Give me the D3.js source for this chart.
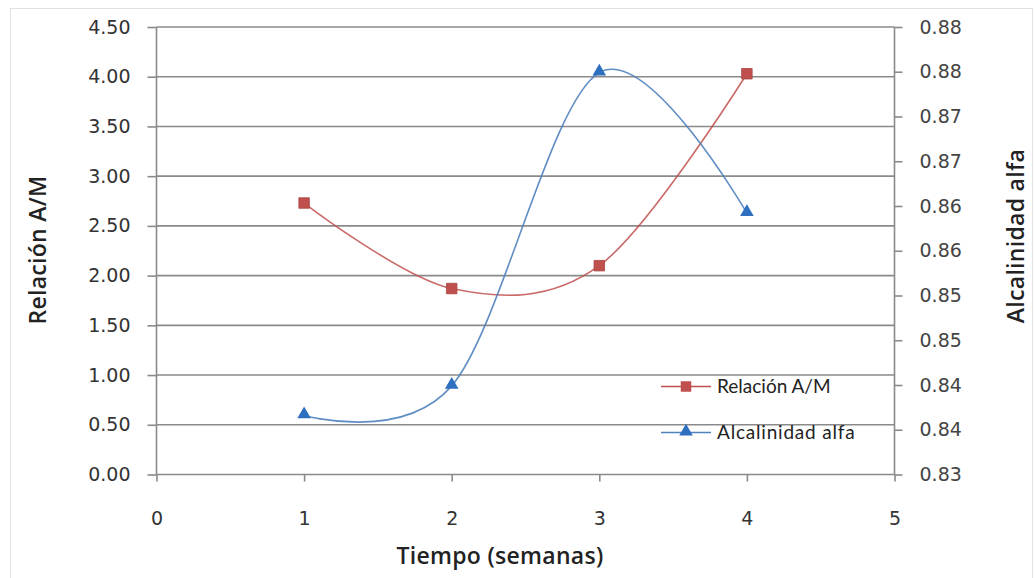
<!DOCTYPE html>
<html>
<head>
<meta charset="utf-8">
<script src="https://cdn.jsdelivr.net/npm/d3@7"></script>
<style>
  html, body { margin: 0; padding: 0; background: #fff; }
  svg { display: block; }
</style>
</head>
<body>
<svg id="chart" width="1035" height="578"></svg>
<script>
// ---- data ----
const weeks = [1, 2, 3, 4];
const relacionAM = [2.73, 1.87, 2.10, 4.03];
const alcalinidadAlfa = [0.8366, 0.8399, 0.8749, 0.8592];
const xTickValues = [0, 1, 2, 3, 4, 5];
const leftTickValues = [0, 0.5, 1, 1.5, 2, 2.5, 3, 3.5, 4, 4.5];
const rightTickValues = [0.830, 0.835, 0.840, 0.845, 0.850, 0.855, 0.860, 0.865, 0.870, 0.875, 0.880];
const rightTickLabels = ["0.83", "0.84", "0.84", "0.85", "0.85", "0.86", "0.86", "0.87", "0.87", "0.88", "0.88"];
const seriesNames = ["Relación A/M", "Alcalinidad alfa"];
const xTitle = "Tiempo (semanas)";
const yLeftTitle = "Relación A/M";
const yRightTitle = "Alcalinidad alfa";

// ---- layout ----
const svg = d3.select("#chart");
const L = 156.5, R = 894.5, T = 27, B = 474.5;
const gridColor = "#8a8a8a";
const red = "#C0504D", blue = "#4F81BD";

svg.append("rect").attr("x", 10.5).attr("y", 8.5).attr("width", 1022).attr("height", 575)
  .attr("fill", "none").attr("stroke", "#e2e2e2");

const x = d3.scaleLinear().domain([0, 5]).range([L, R]);
const yL = d3.scaleLinear().domain([0, 4.5]).range([B, T]);
const yR = d3.scaleLinear().domain([0.83, 0.88]).range([B, T]);

// gridlines
svg.append("g").selectAll("line").data(leftTickValues.filter(v => v > 0)).join("line")
  .attr("x1", L).attr("x2", R)
  .attr("y1", d => yL(d)).attr("y2", d => yL(d))
  .attr("stroke", gridColor).attr("stroke-width", 1.6);

// axes
const tickFont = "'DejaVu Sans', Verdana, sans-serif";
const leftAxis = svg.append("g").attr("transform", `translate(${L},0)`)
  .call(d3.axisLeft(yL).tickValues(leftTickValues).tickFormat(d3.format(".2f")).tickSize(9).tickPadding(17));
const rightAxis = svg.append("g").attr("transform", `translate(${R},0)`)
  .call(d3.axisRight(yR).tickValues(rightTickValues).tickFormat((d, i) => rightTickLabels[i]).tickSize(8).tickPadding(17));
const bottomAxis = svg.append("g").attr("transform", `translate(0,${B})`)
  .call(d3.axisBottom(x).tickValues(xTickValues).tickFormat(d3.format("d")).tickSize(7).tickPadding(30));

[leftAxis, rightAxis, bottomAxis].forEach(g => {
  g.select(".domain").attr("stroke", gridColor).attr("stroke-width", 1.6);
  g.selectAll(".tick line").attr("stroke", gridColor).attr("stroke-width", 1.6);
  g.selectAll(".tick text").attr("font-family", tickFont).attr("font-size", 19).attr("fill", "#333");
});
leftAxis.select(".domain").attr("d", `M0,${B}V${T}`);
rightAxis.select(".domain").attr("d", `M0,${B}V${T}`);
bottomAxis.select(".domain").attr("d", `M${L},0H${R}`);
rightAxis.selectAll(".tick text").attr("fill", "#444");

// lines
const lineL = d3.line().x((d, i) => x(weeks[i])).y(d => yL(d)).curve(d3.curveCardinal.tension(0));
const lineR = d3.line().x((d, i) => x(weeks[i])).y(d => yR(d)).curve(d3.curveCardinal.tension(0));

svg.append("path").datum(relacionAM).attr("d", lineL)
  .attr("fill", "none").attr("stroke", red).attr("stroke-width", 1.6).attr("stroke-opacity", 0.85);
svg.append("path").datum(alcalinidadAlfa).attr("d", lineR)
  .attr("fill", "none").attr("stroke", blue).attr("stroke-width", 1.6).attr("stroke-opacity", 0.9);

const sq = d3.symbol().type(d3.symbolSquare).size(110);
const tri = d3.symbol().type(d3.symbolTriangle).size(80);

svg.append("g").selectAll("path").data(relacionAM).join("path")
  .attr("d", sq).attr("transform", (d, i) => `translate(${x(weeks[i])},${yL(d)})`)
  .attr("fill", red).attr("stroke", "#a94442").attr("stroke-width", 0.8);
svg.append("g").selectAll("path").data(alcalinidadAlfa).join("path")
  .attr("d", tri).attr("transform", (d, i) => `translate(${x(weeks[i])},${yR(d) - 1})`)
  .attr("fill", "#2f6fc0");

// legend
const legend = svg.append("g");
const legendY = [386.5, 432.5];
const legendColors = [red, blue];
seriesNames.forEach((name, i) => {
  const g = legend.append("g").attr("transform", `translate(0,${legendY[i]})`);
  g.append("line").attr("x1", 661).attr("x2", 711).attr("y1", 0).attr("y2", 0)
    .attr("stroke", legendColors[i]).attr("stroke-width", 1.6);
  g.append("path").attr("d", i === 0 ? sq : tri)
    .attr("transform", `translate(686,${i === 0 ? 0 : -1})`)
    .attr("fill", i === 0 ? red : "#2f6fc0");
  g.append("text").attr("x", 717).attr("y", 0).attr("dy", "0.35em")
    .attr("font-family", "Lato, 'Open Sans', sans-serif").attr("font-size", 19)
    .attr("letter-spacing", i === 0 ? 0 : 0.8).attr("fill", "#222").text(name);
});

// titles
const titleFont = "'Open Sans', sans-serif";
svg.append("text").attr("x", 500).attr("y", 564).attr("text-anchor", "middle")
  .attr("font-family", titleFont).attr("font-weight", 600).attr("font-size", 23)
  .attr("letter-spacing", 0.3).attr("fill", "#222").text(xTitle);
svg.append("text").attr("transform", `translate(46,250) rotate(-90)`).attr("text-anchor", "middle")
  .attr("font-family", titleFont).attr("font-weight", 600).attr("font-size", 23)
  .attr("letter-spacing", 0.3).attr("fill", "#222").text(yLeftTitle);
svg.append("text").attr("transform", `translate(1024,236) rotate(-90)`).attr("text-anchor", "middle")
  .attr("font-family", titleFont).attr("font-weight", 600).attr("font-size", 23)
  .attr("letter-spacing", 0.3).attr("fill", "#222").text(yRightTitle);
</script>
</body>
</html>
